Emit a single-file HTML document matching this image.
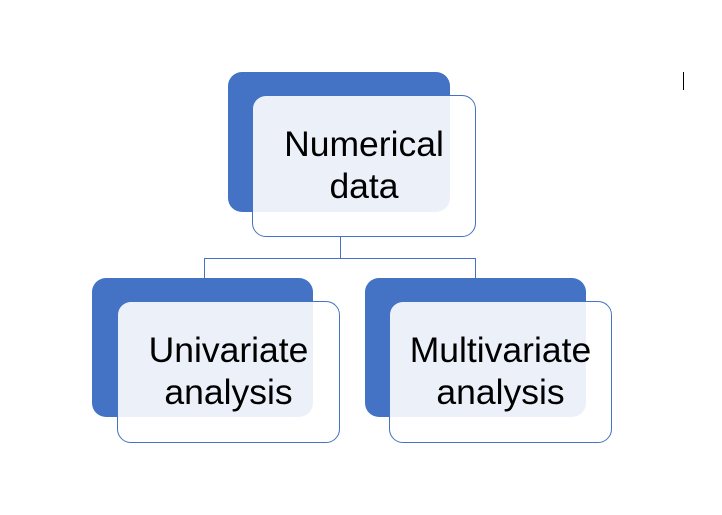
<!DOCTYPE html>
<html><head><meta charset="utf-8"><style>
body{margin:0;width:722px;height:515px;background:#fff;position:relative;overflow:hidden;font-family:"Liberation Sans",sans-serif}
.b{position:absolute;background:#4472c4;border-radius:14px}
.f{position:absolute;background:rgba(255,255,255,0.9);border:1px solid #4472c4;border-radius:14px;box-sizing:border-box;display:flex;align-items:center;justify-content:center;text-align:center;font-size:35.5px;line-height:42px;color:#000;padding-bottom:2px}
.l{position:absolute;background:#4472c4}
</style></head><body>
<div class="l" style="left:340px;top:236px;width:1px;height:22px"></div>
<div class="l" style="left:204px;top:258px;width:272px;height:1px"></div>
<div class="l" style="left:204px;top:258px;width:1px;height:20px"></div>
<div class="l" style="left:475px;top:258px;width:1px;height:20px"></div>
<div class="b" style="left:228px;top:72px;width:222px;height:140px"></div>
<div class="f" style="left:252px;top:95px;width:224px;height:142px">Numerical<br>data</div>
<div class="b" style="left:92px;top:278px;width:221px;height:139px"></div>
<div class="f" style="left:117px;top:301px;width:223px;height:142px">Univariate<br>analysis</div>
<div class="b" style="left:365px;top:278px;width:221px;height:139px"></div>
<div class="f" style="left:389px;top:301px;width:223px;height:142px">Multivariate<br>analysis</div>
<div class="l" style="left:683px;top:72px;width:1px;height:18px;background:#000"></div>
</body></html>
